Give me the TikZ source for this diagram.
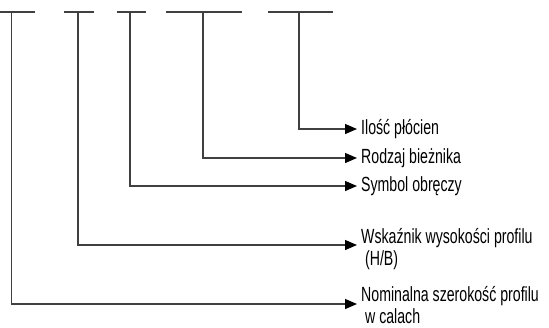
\documentclass[tikz,border=0pt]{standalone}
\usepackage{fontspec}
\newfontfamily\lblfont[FakeStretch=0.69]{Liberation Sans}
\usetikzlibrary{positioning,arrows.meta}
\definecolor{linegray}{RGB}{64,64,64}

\begin{document}
\begin{tikzpicture}[x=1pt,y=-1pt,
    bracket/.style={draw=linegray, line width=1.3pt},
    pointer/.style={draw=linegray, line width=1.3pt,
        -{Triangle[length=12pt,width=10pt,color=black]}},
    desc/.style={anchor=west, inner xsep=4pt, inner ysep=0pt, align=left,
        font=\lblfont\fontsize{20.5}{21.5}\selectfont},
    desc2/.style={desc, anchor=base west}]
    \useasboundingbox (0,0) rectangle (549,327);
    % brackets under the designation
    \coordinate (szer l) at (0,12);   \coordinate (szer r) at (35,12);  \coordinate (szer top) at (11.7,12);
    \coordinate (prof l) at (64,12);  \coordinate (prof r) at (94,12);  \coordinate (prof top) at (78,12);
    \coordinate (obr l) at (117,12);  \coordinate (obr r) at (146,12);  \coordinate (obr top) at (130,12);
    \coordinate (biez l) at (166,12); \coordinate (biez r) at (242,12); \coordinate (biez top) at (203,12);
    \coordinate (plo l) at (268,12);  \coordinate (plo r) at (333,12);  \coordinate (plo top) at (299,12);
    \draw[bracket] (szer l) -- (szer r);
    \draw[bracket] (prof l) -- (prof r);
    \draw[bracket] (obr l) -- (obr r);
    \draw[bracket] (biez l) -- (biez r);
    \draw[bracket] (plo l) -- (plo r);
    % arrow tips
    \coordinate (plo tip) at (357,129);
    \coordinate (biez tip) at (357,158);
    \coordinate (obr tip) at (357,186);
    \coordinate (prof tip) at (357,245);
    \coordinate (szer tip) at (357,304);
    % descriptions
    \node[desc] (plo) at (plo tip) {Ilość płócien};
    \node[desc] (biez) at (biez tip) {Rodzaj bieżnika};
    \node[desc] (obr) at (obr tip) {Symbol obręczy};
    \node[desc2] (prof) at ([yshift=-20pt]prof tip) {Wskaźnik wysokości profilu\\~(H/B)};
    \node[desc2] (szer) at ([yshift=-19pt]szer tip) {Nominalna szerokość profilu\\~w calach};
    % connectors
    \draw[pointer] (plo top) |- (plo tip);
    \draw[pointer] (biez top) |- (biez tip);
    \draw[pointer] (obr top) |- (obr tip);
    \draw[pointer] (prof top) |- (prof tip);
    \draw[pointer] (szer top) |- (szer tip);
\end{tikzpicture}
\end{document}
